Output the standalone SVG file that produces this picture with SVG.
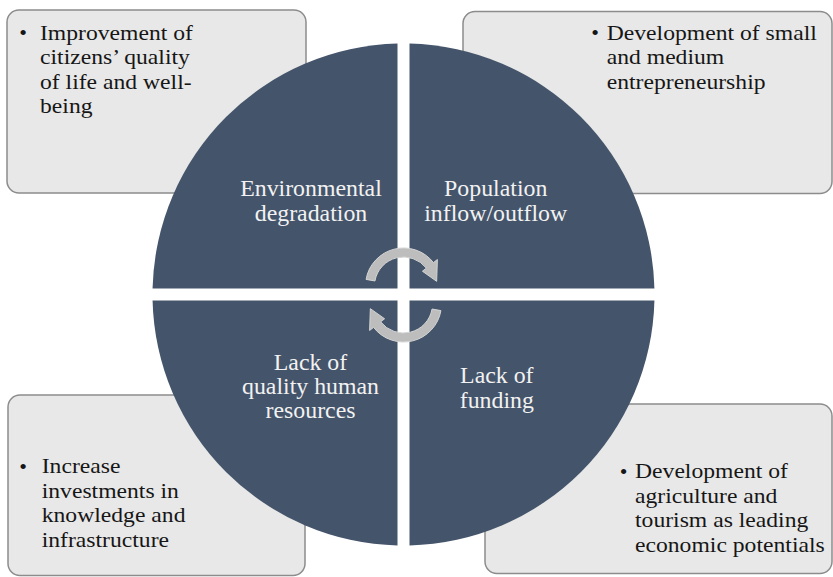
<svg xmlns="http://www.w3.org/2000/svg" width="833" height="577" viewBox="0 0 833 577">
  <style>
    .box { fill: #e8e8e8; stroke: #8c8c8c; stroke-width: 1.5; }
    .quad { fill: #44546a; }
    .cycle { fill: #bdbdbd; stroke: #d4d4d4; stroke-width: 1; }
    .btxt { font-family: "Liberation Serif", "Times New Roman", serif; font-size: 22px; fill: #161616; }
    .qtxt { font-family: "Liberation Serif", "Times New Roman", serif; font-size: 22.5px; fill: #f2f2f2; text-anchor: middle; }
    .bullet { text-anchor: middle; }
  </style>
  <defs>
    <!-- curved cycle arrow, ring centred at (403.5, 286) -->
    <path id="cycle-arrow" d="M366.08,279.40 A38,38 0 0 1 433.44,262.60 L437.38,259.53 L436.67,281.34 L422.41,271.22 L426.35,268.15 A29,29 0 0 0 374.94,280.97 Z"/>
  </defs>

  <rect width="833" height="577" fill="#ffffff"/>

  <!-- outcome boxes (behind the circle) -->
  <g id="box-wellbeing">
    <rect class="box" x="7" y="10" width="299" height="183" rx="12"/>
    <text class="btxt bullet" x="23" y="40">•</text>
    <g transform="translate(40,0) scale(1.075,1)">
      <text class="btxt" x="0" y="40">Improvement of</text>
      <text class="btxt" x="0" y="64.5">citizens’ quality</text>
      <text class="btxt" x="0" y="89">of life and well-</text>
      <text class="btxt" x="0" y="113.5">being</text>
    </g>
  </g>

  <g id="box-entrepreneurship">
    <rect class="box" x="463" y="11.5" width="369" height="182" rx="12"/>
    <text class="btxt bullet" x="595" y="40">•</text>
    <g transform="translate(606.7,0) scale(1.075,1)">
      <text class="btxt" x="0" y="40">Development of small</text>
      <text class="btxt" x="0" y="64.5">and medium</text>
      <text class="btxt" x="0" y="89">entrepreneurship</text>
    </g>
  </g>

  <g id="box-investments">
    <rect class="box" x="8" y="395" width="297" height="180.5" rx="12"/>
    <text class="btxt bullet" x="23" y="473.5">•</text>
    <g transform="translate(41.7,0) scale(1.075,1)">
      <text class="btxt" x="0" y="473.5">Increase</text>
      <text class="btxt" x="0" y="498">investments in</text>
      <text class="btxt" x="0" y="522.5">knowledge and</text>
      <text class="btxt" x="0" y="547">infrastructure</text>
    </g>
  </g>

  <g id="box-agriculture">
    <rect class="box" x="485" y="404" width="347" height="169.5" rx="12"/>
    <text class="btxt bullet" x="623.5" y="478.5">•</text>
    <g transform="translate(635,0) scale(1.075,1)">
      <text class="btxt" x="0" y="478.5">Development of</text>
      <text class="btxt" x="0" y="503">agriculture and</text>
      <text class="btxt" x="0" y="527.5">tourism as leading</text>
      <text class="btxt" x="0" y="552">economic potentials</text>
    </g>
  </g>

  <!-- circle split into four quadrants -->
  <g id="quad-environment">
    <path class="quad" d="M397.5,288.5 L397.5,43.57 A251,251 0 0 0 152.57,288.5 Z"/>
    <g transform="translate(311,0) scale(1.06,1)">
      <text class="qtxt" x="0" y="196.5">Environmental</text>
      <text class="qtxt" x="0" y="220.8">degradation</text>
    </g>
  </g>

  <g id="quad-population">
    <path class="quad" d="M409.5,288.5 L654.43,288.5 A251,251 0 0 0 409.5,43.57 Z"/>
    <g transform="translate(495.7,0) scale(1.06,1)">
      <text class="qtxt" x="0" y="196.5">Population</text>
      <text class="qtxt" x="0" y="220.8">inflow/outflow</text>
    </g>
  </g>

  <g id="quad-funding">
    <path class="quad" d="M409.5,300.5 L409.5,545.43 A251,251 0 0 0 654.43,300.5 Z"/>
    <g transform="translate(496.8,0) scale(1.06,1)">
      <text class="qtxt" x="0" y="383.3">Lack of</text>
      <text class="qtxt" x="0" y="407.6">funding</text>
    </g>
  </g>

  <g id="quad-human-resources">
    <path class="quad" d="M397.5,300.5 L152.57,300.5 A251,251 0 0 0 397.5,545.43 Z"/>
    <g transform="translate(310.5,0) scale(1.06,1)">
      <text class="qtxt" x="0" y="369.7">Lack of</text>
      <text class="qtxt" x="0" y="394">quality human</text>
      <text class="qtxt" x="0" y="418.3">resources</text>
    </g>
  </g>

  <!-- cycle arrows in the centre -->
  <g id="connectors">
    <use href="#cycle-arrow" class="cycle"/>
    <use href="#cycle-arrow" class="cycle" transform="rotate(180 403.5 295)"/>
  </g>
</svg>
